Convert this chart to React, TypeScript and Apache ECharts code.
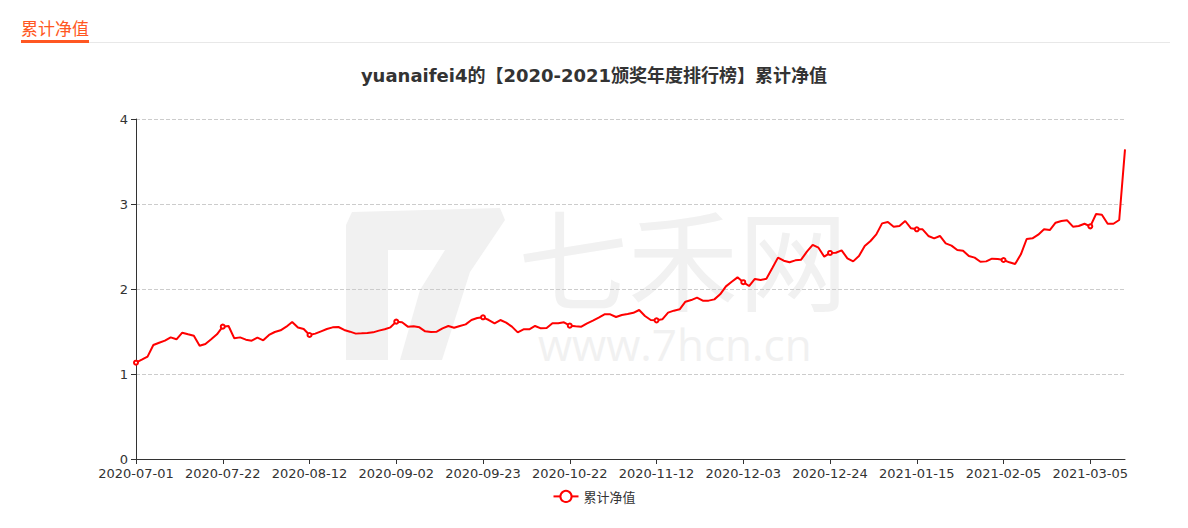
import React, { useEffect, useRef } from "react";
import * as echarts from "echarts";

// Trading-day calendar: first and last day, and exchange holidays that fall on weekdays
const START_DATE = "2020-07-01";
const END_DATE = "2021-03-15";
const HOLIDAYS = [
  "2020-10-01", "2020-10-02", "2020-10-05", "2020-10-06", "2020-10-07", "2020-10-08",
  "2021-01-01",
  "2021-02-11", "2021-02-12", "2021-02-15", "2021-02-16", "2021-02-17",
];

// 累计净值 per trading day
const NAV_VALUES = [
  1.133, 1.168, 1.204, 1.341, 1.368, 1.392, 1.431, 1.408, 1.486, 1.467,
  1.451, 1.333, 1.353, 1.408, 1.467, 1.557, 1.565, 1.42, 1.431, 1.404,
  1.392, 1.427, 1.396, 1.459, 1.494, 1.514, 1.557, 1.612, 1.547, 1.53,
  1.459, 1.475, 1.502, 1.529, 1.549, 1.553, 1.518, 1.498, 1.475, 1.478,
  1.482, 1.49, 1.51, 1.526, 1.549, 1.616, 1.608, 1.557, 1.561, 1.549,
  1.502, 1.494, 1.498, 1.537, 1.565, 1.545, 1.565, 1.584, 1.635, 1.659,
  1.667, 1.635, 1.596, 1.635, 1.604, 1.557, 1.49, 1.526, 1.526, 1.565,
  1.537, 1.541, 1.596, 1.596, 1.608, 1.569, 1.561, 1.557, 1.596, 1.627,
  1.663, 1.702, 1.702, 1.671, 1.694, 1.706, 1.72, 1.753, 1.682, 1.635,
  1.631, 1.643, 1.722, 1.745, 1.761, 1.851, 1.87, 1.898, 1.863, 1.863,
  1.878, 1.937, 2.031, 2.086, 2.137, 2.08, 2.035, 2.118, 2.106, 2.12,
  2.243, 2.369, 2.333, 2.314, 2.337, 2.345, 2.439, 2.518, 2.486, 2.38,
  2.424, 2.427, 2.455, 2.361, 2.325, 2.388, 2.506, 2.565, 2.643, 2.772,
  2.788, 2.733, 2.741, 2.8, 2.714, 2.702, 2.702, 2.624, 2.596, 2.624,
  2.537, 2.51, 2.459, 2.451, 2.388, 2.369, 2.321, 2.325, 2.357, 2.353,
  2.341, 2.314, 2.294, 2.408, 2.588, 2.596, 2.639, 2.702, 2.694, 2.78,
  2.8, 2.808, 2.733, 2.741, 2.768, 2.737, 2.882, 2.874, 2.768, 2.768,
  2.812, 3.643,
];

const Y_TICKS = [0, 1, 2, 3, 4];
const SERIES_NAME = "累计净值";
const CHART_TITLE = "yuanaifei4的【2020-2021颁奖年度排行榜】累计净值";
const HEADER_TEXT = "累计净值";

function tradingDays(start: string, end: string, holidays: string[]): string[] {
  const out: string[] = [];
  const d = new Date(start + "T00:00:00Z");
  const e = new Date(end + "T00:00:00Z");
  while (d.getTime() <= e.getTime()) {
    const s = d.toISOString().slice(0, 10);
    const wd = d.getUTCDay();
    if (wd !== 0 && wd !== 6 && holidays.indexOf(s) < 0) out.push(s);
    d.setUTCDate(d.getUTCDate() + 1);
  }
  return out;
}

const FONT = "'DejaVu Sans', 'Noto Sans CJK SC', sans-serif";
const CJK = "'Noto Sans CJK SC', sans-serif";

export default function App() {
  const ref = useRef<HTMLDivElement>(null);
  useEffect(() => {
    document.body.style.margin = "0";
    if (!ref.current) return;
    const chart = echarts.init(ref.current, undefined, { renderer: "svg" });
    const dates = tradingDays(START_DATE, END_DATE, HOLIDAYS);
    const wm = "#f1f1f1";
    chart.setOption({
      animation: false,
      textStyle: { fontFamily: FONT },
      title: {
        text: CHART_TITLE,
        left: "center",
        top: 61,
        textStyle: { fontSize: 18, fontWeight: "bold", color: "#333", fontFamily: FONT },
      },
      graphic: [
        {
          type: "group",
          silent: true,
          z: -10,
          children: [
            { type: "polygon", shape: { points: [[352, 212], [500, 208], [505, 220], [470, 272], [442, 360], [400, 360], [420, 290], [445, 250], [388, 250], [388, 360], [346, 360], [346, 225]] }, style: { fill: wm } },
            { type: "text", left: 518, top: 200, style: { text: "七禾网", fontSize: 110, lineHeight: 100, fill: wm, fontFamily: CJK } },
            { type: "text", left: 538, top: 322, style: { text: "www.7hcn.cn", fontSize: 44, lineHeight: 40, fill: wm, fontFamily: "'Open Sans', sans-serif" } },
          ],
        },
        { type: "text", left: 21, top: 19, style: { text: HEADER_TEXT, fontSize: 17, fill: "#ff5722", fontFamily: CJK } },
        { type: "rect", shape: { x: 21, y: 42, width: 1149, height: 1 }, style: { fill: "#e8e8e8" } },
        { type: "rect", shape: { x: 21, y: 40, width: 68, height: 3 }, style: { fill: "#ff5722" } },
      ],
      legend: {
        bottom: 20,
        left: "center",
        data: [SERIES_NAME],
        itemWidth: 25,
        itemHeight: 14,
        textStyle: { color: "#333", fontSize: 13, fontFamily: CJK },
      },
      grid: { left: 136, right: 63, top: 119, bottom: 69, containLabel: false },
      xAxis: {
        type: "category",
        data: dates,
        boundaryGap: false,
        axisLine: { lineStyle: { color: "#333" } },
        axisTick: { interval: 14, lineStyle: { color: "#333" } },
        axisLabel: { interval: 14, color: "#333", fontSize: 13, fontFamily: FONT },
      },
      yAxis: {
        type: "value",
        min: Y_TICKS[0],
        max: Y_TICKS[Y_TICKS.length - 1],
        interval: 1,
        axisLine: { show: true, lineStyle: { color: "#333" } },
        axisTick: { show: true, lineStyle: { color: "#333" } },
        axisLabel: { color: "#333", fontSize: 13, fontFamily: FONT },
        splitLine: { lineStyle: { type: "dashed", color: "#ccc" } },
      },
      series: [
        {
          name: SERIES_NAME,
          type: "line",
          data: NAV_VALUES,
          symbol: "emptyCircle",
          symbolSize: 4,
          showSymbol: true,
          showAllSymbol: "auto",
          lineStyle: { color: "#ff0000", width: 2 },
          itemStyle: { color: "#ff0000", borderColor: "#ff3333", borderWidth: 1 },
        },
      ],
    });
    return () => chart.dispose();
  }, []);
  return <div ref={ref} style={{ width: 1188, height: 528 }} />;
}
